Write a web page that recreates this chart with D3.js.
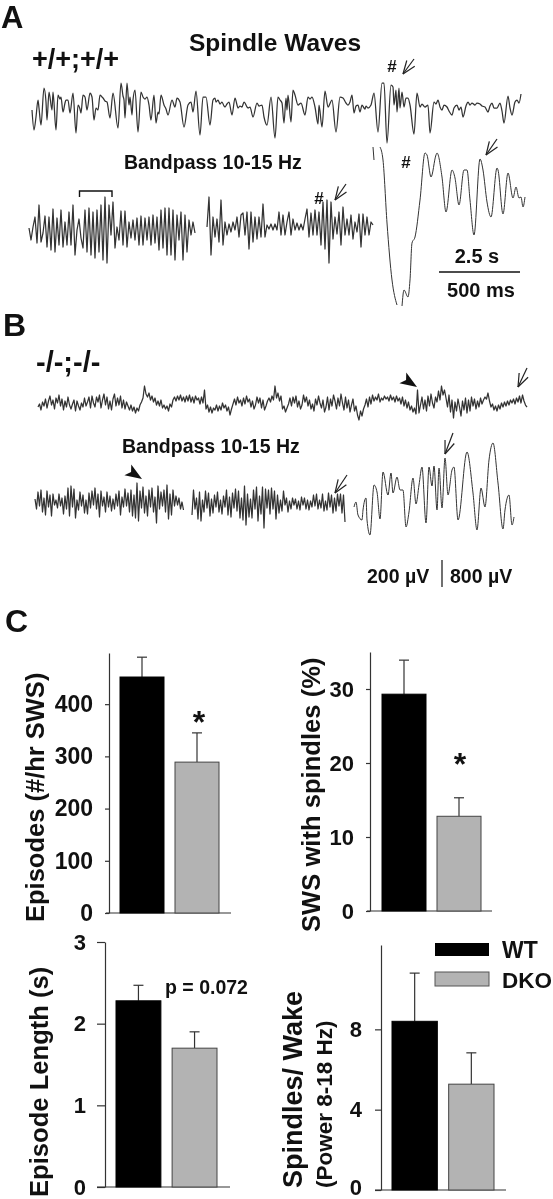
<!DOCTYPE html>
<html>
<head>
<meta charset="utf-8">
<script src="https://cdn.jsdelivr.net/npm/d3@7"></script>
<style>
  html, body { margin: 0; padding: 0; background: #fff; }
  svg { filter: blur(0.35px); }
  text { font-family: "Liberation Sans", Arial, sans-serif; font-weight: bold; fill: #111; }
</style>
</head>
<body>
<svg id="main_svg" width="553" height="1199"></svg>
<script>
// trace readings, amplitude in picture units. pairs are [t, amplitude] at the turning points
var rawA = [[2,-5],[4,-25],[6,-12],[8,5],[9,-3],[11,-20],[14,17],[16,3],[17,-15],[19,13],[22,-5],[23,13],[26,-25],[28,10],[30,6],[31,8],[33,-7],[35,2],[36,5],[38,5],[40,-8],[43,12],[46,-28],[48,0],[50,-4],[51,-8],[53,10],[55,8],[57,-5],[60,12],[62,8],[64,-15],[66,-3],[68,-5],[70,10],[72,8],[73,7],[75,4],[77,3],[80,-13],[83,12],[88,-23],[91,22],[93,9],[94,5],[95,-13],[97,22],[99,0],[100,8],[102,-10],[103,5],[105,15],[108,-27],[111,13],[113,8],[115,6],[117,8],[119,0],[121,-15],[124,10],[126,-18],[128,-7],[129,-9],[131,10],[134,0],[136,-4],[138,-10],[142,5],[145,-2],[147,7],[150,3],[154,-22],[158,0],[161,3],[163,-7],[166,14],[170,-30],[173,8],[176,8],[180,-20],[183,5],[185,7],[186,3],[188,5],[190,1],[192,3],[194,-1],[195,-2],[197,1],[199,3],[202,-10],[205,7],[207,0],[208,-3],[210,-1],[212,-2],[214,3],[215,2],[217,-2],[218,-3],[220,-2],[223,-12],[227,2],[229,-1],[232,0],[234,-12],[237,-20],[241,8],[245,-33],[248,8],[250,5],[252,2],[254,-18],[256,7],[257,-5],[258,10],[261,-17],[263,15],[265,10],[268,0],[271,2],[275,-10],[278,8],[280,6],[282,8],[285,-2],[288,-19],[289,0],[292,-22],[295,14],[298,-2],[302,5],[306,-27],[310,8],[313,7],[316,2],[318,0],[320,3],[322,10],[324,-8],[326,-1],[328,0],[330,-7],[332,0],[334,-3],[335,-4],[336,-1],[338,-3],[341,0],[344,12],[348,-27],[352,22],[354,22],[357,-38],[361,20],[363,18],[364,0],[366,15],[367,-7],[369,17],[370,-3],[372,13],[374,-2],[376,7],[378,7],[380,0],[384,-29],[387,12],[390,-2],[392,1],[393,0],[395,-2],[398,0],[400,-28],[404,3],[406,1],[408,5],[410,-2],[412,-5],[414,0],[417,-2],[419,-6],[422,-10],[424,-3],[427,0],[429,-5],[431,-2],[433,-12],[436,-1],[438,3],[440,0],[442,2],[445,0],[447,2],[450,1],[452,-1],[455,-2],[458,-7],[460,-1],[462,2],[464,-3],[467,-3],[470,2],[472,-6],[474,-18],[478,9],[480,-3],[482,-10],[485,3],[487,5],[489,2],[491,11]];
// expanded trace A runs off the bottom of the frame, so it comes in pieces
var expA0 = [[3,53],[4,40]];
var expA1 = [[10,53],[13,40],[17,-23],[22,-80],[27,-105]];
var expA2 = [[32,-106],[34,-90],[38,-97],[40,-80],[42,-43],[45,-37],[50,0],[55,47],[57,45],[61,23],[66,45],[67,47],[72,23],[76,-12],[82,30],[85,22],[89,-5],[94,30],[97,30],[100,0],[104,-35],[110,41],[113,30],[117,-2],[121,-17],[127,32],[128,30],[133,-14],[138,27],[143,2],[146,13],[149,2],[151,3],[153,-7],[155,3]];
var expB = [[4,-17],[6,-12],[8,-25],[12,-30],[13,-20],[16,-8],[17,-30],[20,-45],[24,5],[27,-2],[30,-29],[33,18],[38,-5],[41,17],[43,-3],[47,13],[50,0],[53,0],[56,-37],[59,-22],[63,12],[66,-14],[69,5],[72,23],[76,-33],[79,23],[82,4],[84,24],[87,-20],[89,22],[92,-18],[95,32],[98,-5],[102,20],[104,23],[108,-30],[117,38],[123,-3],[127,-40],[131,2],[135,-17],[139,30],[143,47],[148,7],[153,-39],[155,-20],[159,-5],[162,-35],[164,-27]];

// these ones are read at even time steps
var bpA1 = [2,-10,3,13,-13,25,-12,-3,14,-17,13,-20,21,-22,12,-15,20,-17,8,-15,18,-15,25,-25,0,11,-8,-18,20,-22,22,-25,18,-28,20,-22,25,-30,33,-33,25,-5,28,-18,3,-10,19,-15,19,-17,8,-8,10,-10,12,-15,14,-15,12,-10,13,-15,15,-13,13,-20,20,-18,22,-25,22,-25,20,-30,15,-10,18,-30,15,-22,10,-5,8,-3];
var bpA2 = [0,30,-28,10,-10,8,-15,27,-18,5,-8,3,-5,5,-3,10,-10,12,14,-8,15,-22,15,-15,10,-12,10,-10,23,-10,2,-2,3,-3,3,-3,15,-8,12,-8,5,15,-8,8,-3,4,-3,3,-3,8,18,-10,14,-8,17,-8,15,-18,25,-22,27,-36,25,-12,10,-7,15,-18,20,-8,8,-8,12,-12,5,-5,13,-20,13,-8,10,-8,5,2];
var rawB = [-4,-1,-7,1,-3,4,-5,2,7,-2,3,-6,5,0,8,-3,4,-7,2,-4,
  6,-2,-6,-1,3,-8,2,-3,-7,0,-4,5,-3,1,6,-5,7,0,-4,6,
  1,8,-5,3,9,-2,6,-6,2,-7,4,9,-3,5,-2,7,-5,3,-6,1,
  -3,-7,-2,-8,-4,-10,-5,-8,-2,1,5,17,9,6,10,3,7,1,5,-2,
  2,-3,3,-5,-2,-6,-3,-8,-1,-4,3,6,2,7,3,8,2,6,1,7,
  2,8,1,6,0,7,3,5,-1,6,0,13,-6,-2,-9,-4,-10,-5,-7,-2,
  -8,-3,-7,0,-5,-2,-8,-4,-12,-6,-1,4,-2,6,0,3,-3,5,-1,7,
  1,4,-4,2,-6,-2,6,0,5,-5,3,-7,-3,2,5,1,7,3,17,5,
  10,2,7,-6,-3,-9,-5,-1,5,-3,6,0,7,-4,2,-6,-2,8,1,6,
  -3,3,-6,-1,-8,4,-2,7,0,-5,3,-9,-4,6,-7,4,-3,8,2,-6,
  5,-3,9,0,-7,6,-5,3,-9,-2,4,-8,-3,-12,-17,-8,-13,-6,-2,4,
  -4,6,-1,8,2,6,3,9,1,5,3,7,4,6,2,8,3,6,1,7,
  2,5,-1,6,-3,3,-5,1,-7,-3,-9,-5,-11,13,-10,-2,6,-6,3,-8,
  7,-3,9,0,-5,6,1,12,3,17,8,13,5,-4,8,-9,3,-15,1,-8,
  4,-4,-13,2,-7,5,-10,3,-8,6,-3,4,-6,2,-4,5,-1,3,6,4,
  10,2,-4,-1,-7,-3,-8,-2,-6,0,-4,1,-3,2,-2,3,0,4,-1,5,
  1,7,0,8,2,-2,-4];
var bpB1 = [4,-6,11,-3,13,-9,5,-12,12,-4,8,-13,9,-2,3,-5,9,-3,5,-11,
  7,-6,15,-13,17,-4,14,-15,3,-7,11,-3,8,-10,3,-11,10,-5,12,-2,
  15,-6,9,-14,12,-3,6,-9,11,-4,7,-8,4,-6,9,-3,12,-12,6,-4,
  14,-3,10,-9,13,-13,8,-15,20,-18,12,-5,16,-10,7,-13,13,-4,15,-9,
  6,-20,17,-6,11,-3,13,-9,18,-16,9,-12,13,-3,7,-2,5,-6,1,-7];
var bpB2 = [-12,13,-6,5,-16,11,-18,3,-9,12,-5,10,-13,4,-10,8,-4,11,-9,3,
  -11,7,-4,13,-12,6,-14,10,-5,14,-8,12,-15,5,-17,17,-22,9,-14,4,
  -15,13,-6,16,-18,7,-11,16,-25,14,-5,13,-11,15,-6,12,-16,8,-10,3,
  -8,12,-2,5,-9,2,-6,5,-2,4,-6,2,-7,6,-2,5,-6,3,-7,2,
  -4,8,-3,9,-6,3,-5,9,-8,2,-7,10,-4,8,-10,5,-8,9,-3,9,
  -10,8,-19];

// bar panels
var groups = ["WT", "DKO"];
var episodes = [452, 289], episodesErr = [490, 345], episodesTicks = [0, 100, 200, 300, 400];
var swsPct = [29.3, 12.8], swsPctErr = [33.9, 15.3], swsPctTicks = [0, 10, 20, 30];
var epLength = [2.28, 1.7], epLengthErr = [2.47, 1.9], epLengthTicks = [0, 1, 2, 3];
var wakeRatio = [8.4, 5.27], wakeRatioErr = [10.8, 6.83], wakeRatioTicks = [0, 4, 8];

var svg = d3.select("#main_svg");
var traceColor = "#333";

function label(txt, x, y, size, anchor) {
  return svg.append("text").attr("x", x).attr("y", y)
    .attr("font-size", size).attr("text-anchor", anchor || "start").text(txt);
}

function vertLabel(txt, x, y, size) {
  return svg.append("text").attr("transform", "translate(" + x + "," + y + ") rotate(-90)")
    .attr("font-size", size).text(txt);
}

function drawPairs(pairs, x0, y0, curve, width) {
  var x = d3.scaleLinear().domain([0, 100]).range([x0, x0 + 100]);
  var y = d3.scaleLinear().domain([-50, 50]).range([y0 + 50, y0 - 50]);
  var line = d3.line().x(function(d) { return x(d[0]); }).y(function(d) { return y(d[1]); })
    .curve(curve || d3.curveLinear);
  svg.append("path").attr("d", line(pairs)).attr("fill", "none")
    .attr("stroke", traceColor).attr("stroke-width", width || 1).attr("stroke-linejoin", "round");
}

function drawEven(values, step, x0, y0) {
  drawPairs(values.map(function(v, i) { return [i * step, v]; }), x0, y0, null, 1.25);
}

// open arrow, head at (x2,y2)
function arrow(x1, y1, x2, y2) {
  var a = Math.atan2(y1 - y2, x1 - x2);
  var g = svg.append("g").attr("stroke", "#222").attr("stroke-width", 1.2).attr("fill", "none");
  g.append("line").attr("x1", x1).attr("y1", y1).attr("x2", x2).attr("y2", y2);
  [-0.36, 0.36].forEach(function(o) {
    g.append("line").attr("x1", x2).attr("y1", y2)
      .attr("x2", x2 + 14 * Math.cos(a + o)).attr("y2", y2 + 14 * Math.sin(a + o));
  });
}

// solid arrow head
function solidHead(x1, y1, x2, y2) {
  var a = Math.atan2(y1 - y2, x1 - x2);
  var pts = [[x2, y2],
    [x2 + 18 * Math.cos(a + 0.36), y2 + 18 * Math.sin(a + 0.36)],
    [x2 + 13 * Math.cos(a), y2 + 13 * Math.sin(a)],
    [x2 + 18 * Math.cos(a - 0.36), y2 + 18 * Math.sin(a - 0.36)]];
  svg.append("polygon").attr("points", pts.join(" ")).attr("fill", "#111");
}

function barPanel(p) {
  var x = d3.scaleBand().domain(groups).range(p.bars).paddingInner(0.2);
  var y = d3.scaleLinear().domain(p.domain).range(p.yRange);

  var axis = d3.axisLeft(y).tickValues(p.ticks).tickFormat(d3.format("d"))
    .tickSize(p.tick).tickPadding(p.pad).tickSizeOuter(0);
  var g = svg.append("g").attr("transform", "translate(" + p.axisX + ",0)").call(axis);
  g.selectAll("path,line").attr("stroke", "#333").attr("stroke-width", 1.2);
  g.selectAll("text").attr("font-size", p.fontSize).attr("font-family", null).attr("fill", "#111");

  svg.append("line").attr("x1", p.base[0]).attr("x2", p.base[1])
    .attr("y1", y(0)).attr("y2", y(0)).attr("stroke", "#333").attr("stroke-width", 1.2);

  groups.forEach(function(name, i) {
    var cx = x(name) + x.bandwidth() / 2;
    svg.append("line").attr("x1", cx).attr("x2", cx).attr("y1", y(p.err[i])).attr("y2", y(p.values[i]))
      .attr("stroke", "#333").attr("stroke-width", 1.2);
    svg.append("line").attr("x1", cx - 5).attr("x2", cx + 5).attr("y1", y(p.err[i])).attr("y2", y(p.err[i]))
      .attr("stroke", "#333").attr("stroke-width", 1.2);
    svg.append("rect").attr("x", x(name)).attr("y", y(p.values[i]))
      .attr("width", x.bandwidth()).attr("height", y(0) - y(p.values[i]))
      .attr("fill", i == 0 ? "#000" : "#b3b3b3").attr("stroke", i == 0 ? "#000" : "#444").attr("stroke-width", 1);
  });
  return g;
}

// panel letters and headings
label("A", 1, 28, 31);
label("B", 3, 336, 32);
label("C", 5, 632, 32);
label("Spindle Waves", 189, 51, 24.5);
label("+/+;+/+", 32, 68, 27);
label("-/-;-/-", 36, 372, 29);
label("Bandpass 10-15 Hz", 124, 169, 19.5);
label("Bandpass 10-15 Hz", 122, 453, 19.5);
label("#", 392, 72, 17, "middle");
label("#", 319, 204, 17, "middle");
label("#", 406, 168, 17, "middle");

// traces
drawPairs(rawA, 30, 105, d3.curveMonotoneX, 1.25);
drawEven(bpA1, 2, 29, 230);
drawEven(bpA2, 2, 207, 227);
drawPairs(expA0, 370, 200);
drawPairs(expA1, 370, 200, d3.curveMonotoneX);
drawPairs(expA2, 370, 200, d3.curveMonotoneX);
drawEven(rawB, 1.5, 38, 403);
drawEven(bpB1, 1.5, 35, 503);
drawEven(bpB2, 1.5, 192, 503);
drawPairs(expB, 350, 490, d3.curveMonotoneX);

// annotations on the traces
svg.append("path").attr("d", "M79.5,197V191H112V197").attr("fill", "none").attr("stroke", "#111").attr("stroke-width", 1.4);
arrow(414, 59, 403, 74);
arrow(346, 184, 335, 200);
arrow(497, 139, 486, 155);
arrow(527, 368, 518, 387);
arrow(347, 475, 335, 493);
arrow(453, 433, 445, 454);
solidHead(403, 378, 417, 387);
solidHead(128, 470, 142, 479);

// scale bars
label("2.5 s", 477, 263, 20, "middle");
svg.append("line").attr("x1", 439).attr("x2", 520).attr("y1", 272).attr("y2", 272).attr("stroke", "#111").attr("stroke-width", 1.4);
label("500 ms", 481, 297, 20, "middle");
label("200 \u00b5V", 367, 583, 19.5);
svg.append("line").attr("x1", 442).attr("x2", 442).attr("y1", 560).attr("y2", 587).attr("stroke", "#111").attr("stroke-width", 1.2);
label("800 \u00b5V", 450, 583, 19.5);

// bar charts
barPanel({ values: episodes, err: episodesErr, ticks: episodesTicks, domain: [0, 498], yRange: [913, 653],
  axisX: 109, bars: [120, 219], base: [106, 231], tick: 4, pad: 12, fontSize: 23 });
barPanel({ values: swsPct, err: swsPctErr, ticks: swsPctTicks, domain: [0, 35], yRange: [911, 652],
  axisX: 370, bars: [382, 481], base: [367, 492], tick: 4, pad: 12, fontSize: 22 });
barPanel({ values: epLength, err: epLengthErr, ticks: epLengthTicks, domain: [0, 3], yRange: [1187, 942],
  axisX: 105, bars: [116, 217], base: [97, 230], tick: 8, pad: 11, fontSize: 22 });
var wakeAxis = barPanel({ values: wakeRatio, err: wakeRatioErr, ticks: wakeRatioTicks, domain: [0, 12.2], yRange: [1190, 945],
  axisX: 381, bars: [392, 494], base: [375, 506], tick: 6, pad: 13, fontSize: 22 });
// the 0 sits right at the bottom of the page
wakeAxis.selectAll("text").filter(function(d) { return d === 0; }).attr("dy", "0.2em");

label("*", 199, 733, 32, "middle");
label("*", 460, 775, 32, "middle");
label("p = 0.072", 165, 994, 19.5);

vertLabel("Episodes (#/hr SWS)", 44, 922, 25.5);
vertLabel("SWS with spindles (%)", 320, 932, 25.6);
vertLabel("Episode Length (s)", 48, 1197, 25.6);
vertLabel("Spindles/ Wake", 302, 1188, 27);
vertLabel("(Power 8-18 Hz)", 332, 1188, 22.5);

// legend
svg.append("rect").attr("x", 435).attr("y", 943).attr("width", 54).attr("height", 13).attr("fill", "#000");
svg.append("rect").attr("x", 435).attr("y", 972).attr("width", 54).attr("height", 14).attr("fill", "#b3b3b3").attr("stroke", "#555");
label("WT", 502, 958, 23);
label("DKO", 502, 988, 22.5);
</script>
</body>
</html>
